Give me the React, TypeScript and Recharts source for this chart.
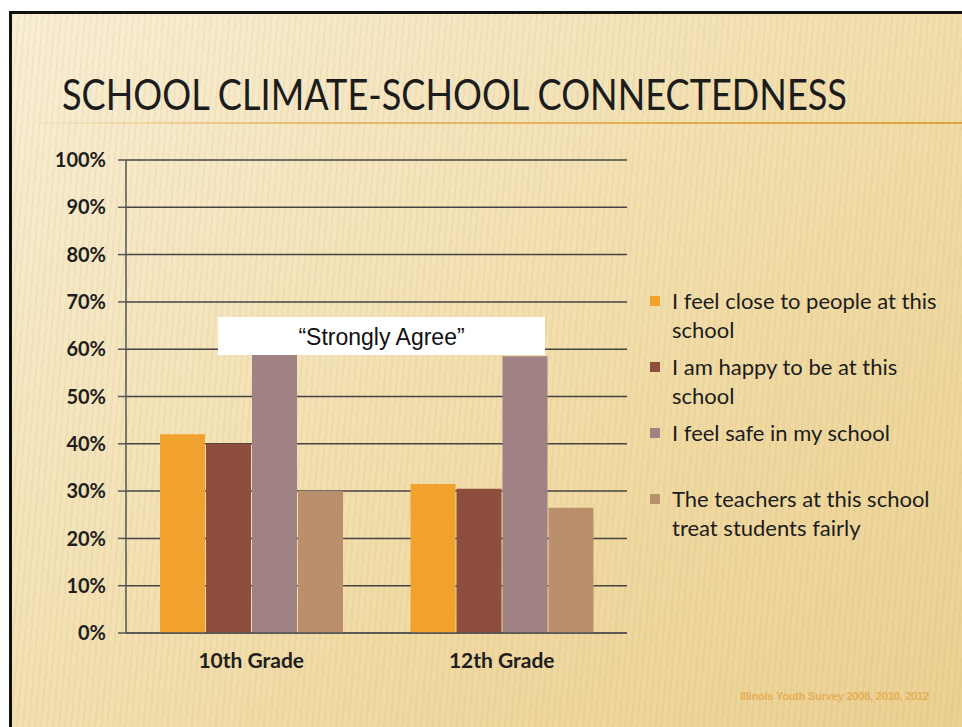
import React from 'react';
import { BarChart, Bar, XAxis, YAxis, CartesianGrid } from 'recharts';

const categories = ['10th Grade', '12th Grade'];
const closeToPeople = [42, 31.5];
const happyAtSchool = [40, 30.5];
const feelSafe = [59, 58.5];
const treatedFairly = [30, 26.5];
const yTicks = [0, 10, 20, 30, 40, 50, 60, 70, 80, 90, 100];

const series = [
  { key: 'close', name: 'I feel close to people at this school', color: '#f0a12e', values: closeToPeople },
  { key: 'happy', name: 'I am happy to be at this school', color: '#8e4e3e', values: happyAtSchool },
  { key: 'safe', name: 'I feel safe in my school', color: '#a08284', values: feelSafe },
  { key: 'fair', name: 'The teachers at this school treat students fairly', color: '#b98f6c', values: treatedFairly },
];

const data = categories.map((c, i) => {
  const row: Record<string, string | number> = { grade: c };
  series.forEach((s) => { row[s.key] = s.values[i]; });
  return row;
});

const title = 'SCHOOL CLIMATE-SCHOOL CONNECTEDNESS';
const font = 'Lato, "Open Sans", sans-serif';

const App: React.FC = () => {
  return (
    <div
      style={{
        position: 'absolute', left: 0, top: 0, width: 962, height: 727, overflow: 'hidden',
        background: '#ffffff',
      }}
    >
      {/* slide background */}
      <div
        style={{
          position: 'absolute', left: 12, top: 14, right: 0, bottom: 0,
          background:
            'repeating-linear-gradient(95deg, rgba(190,150,70,0.09) 0px, rgba(190,150,70,0.09) 2px, transparent 2px, transparent 6px),' +
            'linear-gradient(140deg, #f8eed6 0%, #f4e4bb 35%, #f0daa3 65%, #ebd093 100%)',
        }}
      />
      {/* frame */}
      <div style={{ position: 'absolute', left: 9, top: 11, width: 953, height: 3, background: '#111' }} />
      <div style={{ position: 'absolute', left: 9, top: 11, width: 3, height: 716, background: '#111' }} />

      {/* title */}
      <div
        style={{
          position: 'absolute', left: 62, top: 68, fontFamily: font, fontSize: 43, color: '#1c1c1c',
          whiteSpace: 'nowrap', lineHeight: '52px', transform: 'scaleX(0.84)', transformOrigin: '0 0',
        }}
      >
        {title}
      </div>
      <div
        style={{
          position: 'absolute', left: 12, top: 122, width: 950, height: 2,
          background: 'linear-gradient(90deg, rgba(224,160,60,0) 0%, rgba(224,160,60,0.6) 30%, #e0a23a 100%)',
        }}
      />

      {/* chart */}
      <div style={{ position: 'absolute', left: 0, top: 0 }}>
        <BarChart
          width={640}
          height={700}
          data={data}
          margin={{ top: 160, right: 13, left: 0, bottom: 37 }}
          barSize={45}
          barGap={1}
        >
          <CartesianGrid vertical={false} stroke="#444" strokeWidth={1.5} />
          <XAxis
            dataKey="grade"
            height={30}
            axisLine={{ stroke: '#555', strokeWidth: 1.5 }}
            tickLine={false}
            tickMargin={14}
            tick={{ fill: '#1e1e1e', fontSize: 21, fontWeight: 700, fontFamily: font }}
          />
          <YAxis
            width={126}
            domain={[0, 100]}
            ticks={yTicks}
            interval={0}
            tickFormatter={(v: number) => `${v}%`}
            axisLine={{ stroke: '#555', strokeWidth: 1.5 }}
            tickLine={{ stroke: '#555', strokeWidth: 1.5 }}
            tickSize={8}
            tickMargin={12}
            tick={{ fill: '#1e1e1e', fontSize: 20, fontWeight: 700, fontFamily: font }}
          />
          {series.map((s) => (
            <Bar key={s.key} dataKey={s.key} name={s.name} fill={s.color} isAnimationActive={false} />
          ))}
        </BarChart>
      </div>

      {/* "Strongly Agree" call-out */}
      <div
        style={{
          position: 'absolute', left: 218, top: 317, width: 327, height: 38, background: '#ffffff',
          fontFamily: '"Liberation Sans", Arial, sans-serif', fontSize: 23, color: '#111',
          textAlign: 'center', lineHeight: '40px',
        }}
      >
        “Strongly Agree”
      </div>

      {/* legend */}
      {series.map((s, i) => (
        <div key={s.key} style={{ position: 'absolute', left: 650, top: 286 + i * 66, display: 'flex' }}>
          <div style={{ width: 10, height: 10, background: s.color, marginTop: 10, marginRight: 12 }} />
          <div style={{ width: 282, fontFamily: font, fontSize: 22, color: '#1c1c1c', lineHeight: '29px' }}>
            {s.name}
          </div>
        </div>
      ))}

      <div
        style={{
          position: 'absolute', left: 740, top: 690, fontFamily: '"Liberation Sans", Arial, sans-serif',
          fontSize: 11, fontWeight: 700, letterSpacing: -0.2, color: '#e6ad55', whiteSpace: 'nowrap',
        }}
      >
        Illinois Youth Survey 2008, 2010, 2012
      </div>
    </div>
  );
};

export default App;
